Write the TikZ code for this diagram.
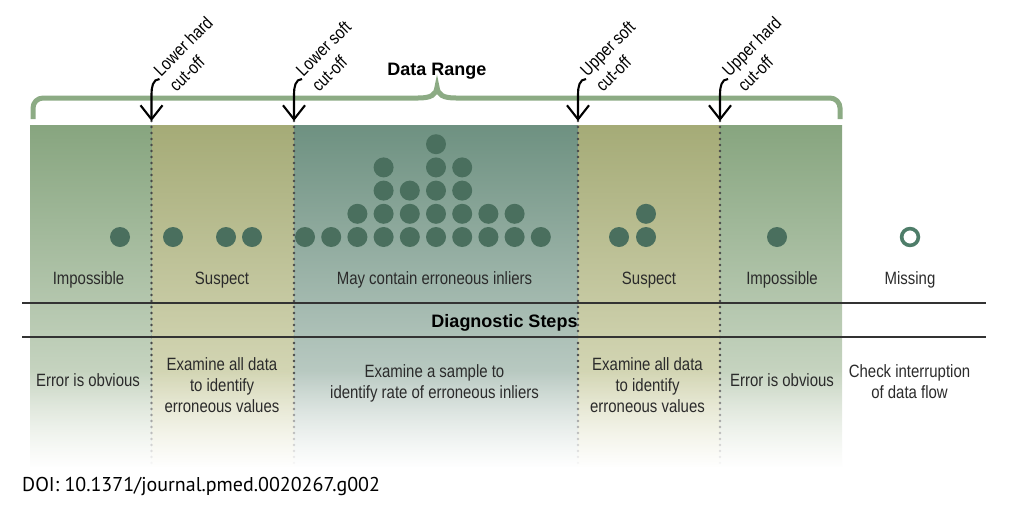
\documentclass[tikz,border=0pt]{standalone}
\usepackage{fontspec}
\setmainfont{Liberation Sans}
\newfontfamily\narrowsans[FakeStretch=0.84]{Liberation Sans}
\newfontfamily\doifont{PT Sans}
\usetikzlibrary{arrows.meta,fadings,calc}

% column shades (top / middle / bottom)
\definecolor{impTop}{HTML}{87A57F}
\definecolor{impMid}{HTML}{B3C5A9}
\definecolor{impBot}{HTML}{DDE5D8}
\definecolor{susTop}{HTML}{A5AB77}
\definecolor{susMid}{HTML}{C6C99B}
\definecolor{susBot}{HTML}{E4E5CA}
\definecolor{midTop}{HTML}{6E9181}
\definecolor{midMid}{HTML}{A0B5AA}
\definecolor{midBot}{HTML}{D4DED9}
\definecolor{braceGreen}{HTML}{8CAB84}
\definecolor{dotGreen}{HTML}{4A6F5E}
\definecolor{ringGreen}{HTML}{4E7D69}
\definecolor{dotGray}{HTML}{484848}
\definecolor{ruleGray}{HTML}{333333}
\definecolor{textGray}{HTML}{2B2B2B}

\tikzset{
  lbl/.style={font=\narrowsans\fontsize{17.8}{21}\selectfont, text=textGray, align=center, inner sep=0pt},
  head/.style={font=\bfseries\fontsize{18}{22}\selectfont, text=black, inner sep=0pt},
  cutlbl/.style={font=\narrowsans\fontsize{17.8}{22}\selectfont, text=black, align=left,
                 inner sep=0pt, rotate=45, anchor=north west},
  cutarrow/.style={draw=black, line width=2.1pt, -{Straight Barb[length=14pt,width=22pt]}},
  sepline/.style={draw=dotGray, line width=2.8pt, line cap=round, dash pattern=on 0pt off 6pt},
  rulerline/.style={draw=ruleGray, line width=2.6pt},
  bracepath/.style={draw=braceGreen, line width=5pt},
  datadot/.style={fill=dotGreen},
}

\begin{document}
\begin{tikzpicture}[x=1pt,y=1pt]
\useasboundingbox (0,0) rectangle (1016,-509);

% shaded columns
\shade[top color=impTop, middle color=impMid, bottom color=impBot] (30,-125) rectangle (152,-466);
\shade[top color=susTop, middle color=susMid, bottom color=susBot] (152,-125) rectangle (294,-466);
\shade[top color=midTop, middle color=midMid, bottom color=midBot] (294,-125) rectangle (578,-466);
\shade[top color=susTop, middle color=susMid, bottom color=susBot] (578,-125) rectangle (720,-466);
\shade[top color=impTop, middle color=impMid, bottom color=impBot] (720,-125) rectangle (842,-466);

% cut-off positions
\foreach \n/\x in {lh/151.5, ls/294, us/578, uh/720}{
  \coordinate (\n tip) at (\x,-121);
  \coordinate (\n end) at (\x,-466);
  \coordinate (\n start) at (\x+8,-79);
}

% dotted separators
\foreach \n in {lh, ls, us, uh}{
  \draw[sepline] (\n tip) -- (\n end);
}

% horizontal rules
\draw[rulerline] (22,-303) -- (986,-303);
\draw[rulerline] (22,-337) -- (986,-337);

% fade the lower part of the columns to white
\fill[white, path fading=north] (26,-370) rectangle (846,-468);

% data range brace
\draw[bracepath, rounded corners=10pt] (33,-119) -- (33,-98) -- (418,-98);
\draw[bracepath] (418,-98) .. controls (431,-98) and (436,-95) .. (437,-87)
                 .. controls (438,-95) and (443,-98) .. (456,-98);
\draw[bracepath, rounded corners=10pt] (456,-98) -- (840,-98) -- (840,-119);
\node[head, anchor=base] (range) at (437,-75) {Data Range};

% cut-off labels and arrows
\foreach \n/\a/\b in {lh/Lower hard/cut-off, ls/Lower soft/cut-off,
                      us/Upper soft/cut-off, uh/Upper hard/cut-off}{
  \node[cutlbl] (\n lbl) at ($(\n start)+(-7.9,11)$) {\a\\\b};
  \draw[cutarrow] (\n start) to[out=180,in=90] ($(\n tip)+(0,27)$) -- (\n tip);
}

% data points
\foreach \x in {120,173,226,252,305,331.2,357.4,383.6,409.8,436,462.2,488.4,514.6,540.8,619,646,777}
  \fill[datadot] (\x,-237) circle (10);
\foreach \x in {357.4,383.6,409.8,436,462.2,488.4,514.6,646}
  \fill[datadot] (\x,-213.8) circle (10);
\foreach \x in {383.6,409.8,436,462.2}
  \fill[datadot] (\x,-190.6) circle (10);
\foreach \x in {383.6,436,462.2}
  \fill[datadot] (\x,-167.4) circle (10);
\fill[datadot] (436,-144.2) circle (10);
\draw[draw=ringGreen, line width=3.6pt] (910,-237) circle (8.4);

% category labels
\node[lbl, anchor=base] (impL) at (88.5,-284.5) {Impossible};
\node[lbl, anchor=base] (susL) at (222,-284.5) {Suspect};
\node[lbl, anchor=base] (inl) at (434.5,-284.5) {May contain erroneous inliers};
\node[lbl, anchor=base] (susR) at (649,-284.5) {Suspect};
\node[lbl, anchor=base] (impR) at (782,-284.5) {Impossible};
\node[lbl, anchor=base] (miss) at (910,-284.5) {Missing};

\node[head, anchor=base] (diag) at (504.5,-327.5) {Diagnostic Steps};

% diagnostic steps
\node[lbl, anchor=north] (stImpL) at (88,-373) {Error is obvious};
\node[lbl, anchor=north] (stSusL) at (222,-357) {Examine all data\\to identify\\erroneous values};
\node[lbl, anchor=north] (stInl) at (434.5,-364) {Examine a sample to\\identify rate of erroneous inliers};
\node[lbl, anchor=north] (stSusR) at (647.5,-357) {Examine all data\\to identify\\erroneous values};
\node[lbl, anchor=north] (stImpR) at (782,-373) {Error is obvious};
\node[lbl, anchor=north] (stMiss) at (909.5,-364) {Check interruption\\of data flow};

% source line
\node[font=\doifont\fontsize{20}{24}\selectfont, text=black, inner sep=0pt, anchor=base west]
  (doi) at (22,-491) {DOI: 10.1371/journal.pmed.0020267.g002};
\end{tikzpicture}
\end{document}
